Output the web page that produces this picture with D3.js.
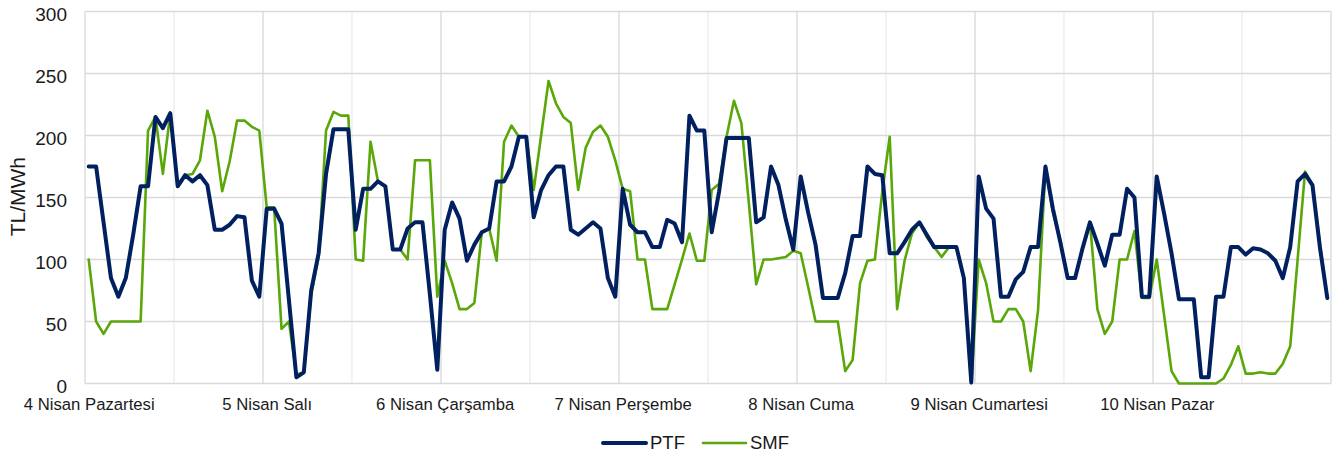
<!DOCTYPE html>
<html>
<head>
<meta charset="utf-8">
<script src="https://cdn.jsdelivr.net/npm/d3@7"></script>
<style>
  body { margin: 0; background: #fff; }
  svg text { font-family: "Liberation Sans", Arial, sans-serif; fill: #1a1a1a; }
</style>
</head>
<body>
<svg id="chart" width="1333" height="457"></svg>
<script>
// gün etiketleri (her gün 24 saat)
var days = ["4 Nisan Pazartesi", "5 Nisan Salı", "6 Nisan Çarşamba", "7 Nisan Perşembe",
            "8 Nisan Cuma", "9 Nisan Cumartesi", "10 Nisan Pazar"];

var yTicks = [0, 50, 100, 150, 200, 250, 300];

// saatlik PTF (TL/MWh)
var ptf = [
  175,175,130,85,70,85,120,159,159,215,206,218,159,168,163,168,160,124,124,128,135,134,83,70,
  141,141,129,67,5,9,75,105,169,205,205,205,124,157,157,163,159,108,108,125,130,130,72,11,
  124,146,133,99,112,122,125,163,163,175,199,199,134,156,168,175,175,124,120,125,130,125,85,70,
  157,128,122,122,110,110,132,129,114,216,204,204,122,155,198,198,198,198,130,134,175,160,132,108,
  167,138,112,69,69,69,89,119,119,175,169,168,105,105,114,124,130,120,110,110,110,110,85,1,
  167,141,133,70,70,84,90,110,110,175,141,114,85,85,109,130,113,95,120,120,157,150,70,70,
  167,137,105,68,68,68,5,5,70,70,110,110,104,109,108,105,99,85,110,163,169,160,110,69
];

// saatlik SMF (TL/MWh)
var smf = [
  100,50,40,50,50,50,50,50,204,215,169,218,159,168,169,180,220,199,155,179,212,212,207,204,
  142,142,44,50,7,9,72,102,204,219,216,216,100,99,195,163,159,108,108,100,180,180,180,70,
  99,81,60,60,65,122,125,99,195,208,199,199,156,200,244,226,215,210,156,190,203,208,199,180,
  157,155,100,100,60,60,60,80,100,121,99,99,156,161,199,228,210,146,80,100,100,101,102,107,
  105,78,50,50,50,50,10,19,81,99,100,155,199,60,99,121,130,118,110,102,110,110,85,0,
  100,81,50,50,60,60,50,10,59,175,138,116,85,86,109,130,60,40,50,100,100,123,69,69,
  100,55,10,0,0,0,0,0,0,4,15,30,8,8,9,8,8,16,30,100,171,160,113,69
];

var svg = d3.select("#chart");
var plotLeft = 85, plotRight = 1331, plotTop = 11.5, plotBottom = 383.5;

var hours = d3.range(ptf.length);

var x = d3.scalePoint().domain(hours).range([plotLeft, plotRight]).padding(0.5);
var step = (plotRight - plotLeft) / hours.length;

var y = d3.scaleLinear().domain([0, 300]).range([plotBottom, plotTop]);

// dikey ızgara: her 12 saatte bir, gün sınırları daha koyu
var vg = svg.append("g");
d3.range(0, hours.length + 1, 12).forEach(function(h) {
  vg.append("line")
    .attr("x1", plotLeft + h * step).attr("x2", plotLeft + h * step)
    .attr("y1", plotTop).attr("y2", plotBottom)
    .attr("stroke", h % 24 == 0 ? "#d9d9d9" : "#ececec")
    .attr("stroke-width", 1.3);
});

// yatay ızgara
svg.append("g")
  .selectAll("line")
  .data(yTicks)
  .enter().append("line")
  .attr("x1", plotLeft).attr("x2", plotRight)
  .attr("y1", function(d) { return y(d); })
  .attr("y2", function(d) { return y(d); })
  .attr("stroke", "#d9d9d9")
  .attr("stroke-width", 1.3);

// y ekseni
var yAxis = svg.append("g")
  .attr("transform", "translate(" + plotLeft + ",0)")
  .call(d3.axisLeft(y).tickValues(yTicks).tickSize(0).tickPadding(18));
yAxis.select(".domain").remove();
yAxis.selectAll("text")
  .attr("dy", null)
  .attr("y", 9.3)
  .style("font-size", "19px")
  .style("font-family", "Liberation Sans, Arial, sans-serif")
  .attr("fill", "#1a1a1a");

// x ekseni: gün etiketleri her günün ilk saatinde
var xAxis = svg.append("g")
  .attr("transform", "translate(0," + plotBottom + ")")
  .call(d3.axisBottom(x)
    .tickValues(d3.range(0, hours.length, 24))
    .tickFormat(function(d) { return days[d / 24]; })
    .tickSize(0));
xAxis.select(".domain").remove();
xAxis.selectAll("text")
  .attr("dy", null)
  .attr("y", 26.5)
  .style("font-size", "16.7px")
  .style("font-family", "Liberation Sans, Arial, sans-serif")
  .attr("fill", "#1a1a1a");

svg.append("text")
  .attr("transform", "translate(25,196.7) rotate(-90)")
  .attr("text-anchor", "middle")
  .style("font-size", "21px")
  .text("TL/MWh");

var line = d3.line()
  .x(function(d, i) { return x(i); })
  .y(function(d) { return y(d); });

svg.append("path")
  .datum(smf)
  .attr("fill", "none")
  .attr("stroke", "#5aa70a")
  .attr("stroke-width", 2.6)
  .attr("stroke-linejoin", "round")
  .attr("stroke-linecap", "round")
  .attr("d", line);

svg.append("path")
  .datum(ptf)
  .attr("fill", "none")
  .attr("stroke", "#002060")
  .attr("stroke-width", 4)
  .attr("stroke-linejoin", "round")
  .attr("stroke-linecap", "round")
  .attr("d", line);

// lejant
var legend = [
  { name: "PTF", color: "#002060", w: 4, x: 603 },
  { name: "SMF", color: "#5aa70a", w: 2.6, x: 703 }
];
var lg = svg.append("g").selectAll("g").data(legend).enter().append("g");
lg.append("line")
  .attr("x1", function(d) { return d.x; })
  .attr("x2", function(d) { return d.x + 43; })
  .attr("y1", 443).attr("y2", 443)
  .attr("stroke", function(d) { return d.color; })
  .attr("stroke-width", function(d) { return d.w; })
  .attr("stroke-linecap", "round");
lg.append("text")
  .attr("x", function(d) { return d.x + 47; })
  .attr("y", 449.3)
  .style("font-size", "18.5px")
  .text(function(d) { return d.name; });
</script>
</body>
</html>
